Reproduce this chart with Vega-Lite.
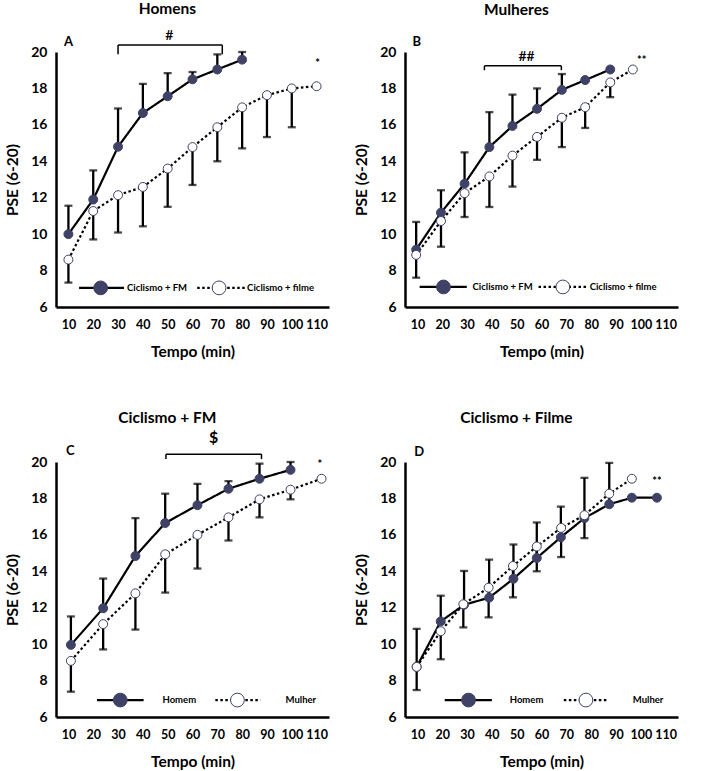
{
  "$schema": "https://vega.github.io/schema/vega-lite/v6.json",
  "background": "white",
  "padding": {"left": 5, "right": 5, "top": 1, "bottom": 2},
  "config": {
    "view": {"stroke": null},
    "font": "Lato",
    "title": {"font": "Lato", "fontSize": 15.5, "fontWeight": "bold", "color": "black", "frame": "bounds", "anchor": "middle"},
    "axis": {
      "domainColor": "black", "domainWidth": 2.5, "ticks": false, "grid": false,
      "labelFont": "Lato", "labelFontSize": 14, "labelFontWeight": "bold", "labelColor": "black",
      "titleFont": "Lato", "titleFontSize": 15.5, "titleFontWeight": "bold", "titleColor": "black",
      "labelOverlap": false
    },
    "axisX": {"labelPadding": 11, "titlePadding": 14, "labelFlush": false, "labelFontSize": 12.5},
    "axisY": {"labelPadding": 9, "titlePadding": 10}
  },
  "datasets": {
    "pts": [
      {"painel": "A", "serie": "Ciclismo + FM", "t": 10, "pse": 10.0, "dp": 11.56},
      {"painel": "A", "serie": "Ciclismo + FM", "t": 20, "pse": 11.9, "dp": 13.5},
      {"painel": "A", "serie": "Ciclismo + FM", "t": 30, "pse": 14.8, "dp": 16.9},
      {"painel": "A", "serie": "Ciclismo + FM", "t": 40, "pse": 16.65, "dp": 18.25},
      {"painel": "A", "serie": "Ciclismo + FM", "t": 50, "pse": 17.57, "dp": 18.84},
      {"painel": "A", "serie": "Ciclismo + FM", "t": 60, "pse": 18.5, "dp": 18.9},
      {"painel": "A", "serie": "Ciclismo + FM", "t": 70, "pse": 19.04, "dp": 19.87},
      {"painel": "A", "serie": "Ciclismo + FM", "t": 80, "pse": 19.58, "dp": 20.0},
      {"painel": "A", "serie": "Ciclismo + filme", "t": 10, "pse": 8.6, "dp": 7.34},
      {"painel": "A", "serie": "Ciclismo + filme", "t": 20, "pse": 11.27, "dp": 9.71},
      {"painel": "A", "serie": "Ciclismo + filme", "t": 30, "pse": 12.14, "dp": 10.09},
      {"painel": "A", "serie": "Ciclismo + filme", "t": 40, "pse": 12.59, "dp": 10.43},
      {"painel": "A", "serie": "Ciclismo + filme", "t": 50, "pse": 13.6, "dp": 11.5},
      {"painel": "A", "serie": "Ciclismo + filme", "t": 60, "pse": 14.78, "dp": 12.7},
      {"painel": "A", "serie": "Ciclismo + filme", "t": 70, "pse": 15.87, "dp": 14.0},
      {"painel": "A", "serie": "Ciclismo + filme", "t": 80, "pse": 16.96, "dp": 14.71},
      {"painel": "A", "serie": "Ciclismo + filme", "t": 90, "pse": 17.63, "dp": 15.33},
      {"painel": "A", "serie": "Ciclismo + filme", "t": 100, "pse": 18.0, "dp": 15.87},
      {"painel": "A", "serie": "Ciclismo + filme", "t": 110, "pse": 18.12, "dp": null},

      {"painel": "B", "serie": "Ciclismo + FM", "t": 9.5, "pse": 9.15, "dp": 10.67},
      {"painel": "B", "serie": "Ciclismo + FM", "t": 19.5, "pse": 11.18, "dp": 12.41},
      {"painel": "B", "serie": "Ciclismo + FM", "t": 29, "pse": 12.77, "dp": 14.49},
      {"painel": "B", "serie": "Ciclismo + FM", "t": 39, "pse": 14.78, "dp": 16.7},
      {"painel": "B", "serie": "Ciclismo + FM", "t": 48.3, "pse": 15.94, "dp": 17.66},
      {"painel": "B", "serie": "Ciclismo + FM", "t": 58.2, "pse": 16.88, "dp": 18.0},
      {"painel": "B", "serie": "Ciclismo + FM", "t": 68.2, "pse": 17.92, "dp": 18.79},
      {"painel": "B", "serie": "Ciclismo + FM", "t": 77.6, "pse": 18.46, "dp": null},
      {"painel": "B", "serie": "Ciclismo + FM", "t": 87.7, "pse": 19.04, "dp": null},
      {"painel": "B", "serie": "Ciclismo + filme", "t": 9.5, "pse": 8.86, "dp": 7.61},
      {"painel": "B", "serie": "Ciclismo + filme", "t": 19.5, "pse": 10.72, "dp": 9.31},
      {"painel": "B", "serie": "Ciclismo + filme", "t": 29, "pse": 12.25, "dp": 10.94},
      {"painel": "B", "serie": "Ciclismo + filme", "t": 39, "pse": 13.17, "dp": 11.49},
      {"painel": "B", "serie": "Ciclismo + filme", "t": 48.3, "pse": 14.31, "dp": 12.61},
      {"painel": "B", "serie": "Ciclismo + filme", "t": 58.2, "pse": 15.34, "dp": 14.08},
      {"painel": "B", "serie": "Ciclismo + filme", "t": 68.2, "pse": 16.39, "dp": 14.78},
      {"painel": "B", "serie": "Ciclismo + filme", "t": 77.6, "pse": 16.97, "dp": 15.83},
      {"painel": "B", "serie": "Ciclismo + filme", "t": 87.7, "pse": 18.33, "dp": 17.52},
      {"painel": "B", "serie": "Ciclismo + filme", "t": 96.8, "pse": 19.04, "dp": null},

      {"painel": "C", "serie": "Homem", "t": 11, "pse": 9.96, "dp": 11.52},
      {"painel": "C", "serie": "Homem", "t": 24, "pse": 11.97, "dp": 13.6},
      {"painel": "C", "serie": "Homem", "t": 37, "pse": 14.84, "dp": 16.92},
      {"painel": "C", "serie": "Homem", "t": 49, "pse": 16.65, "dp": 18.26},
      {"painel": "C", "serie": "Homem", "t": 62, "pse": 17.63, "dp": 18.8},
      {"painel": "C", "serie": "Homem", "t": 74.5, "pse": 18.53, "dp": 18.95},
      {"painel": "C", "serie": "Homem", "t": 87, "pse": 19.08, "dp": 19.91},
      {"painel": "C", "serie": "Homem", "t": 99.5, "pse": 19.57, "dp": 20.0},
      {"painel": "C", "serie": "Mulher", "t": 11, "pse": 9.08, "dp": 7.39},
      {"painel": "C", "serie": "Mulher", "t": 24, "pse": 11.1, "dp": 9.71},
      {"painel": "C", "serie": "Mulher", "t": 37, "pse": 12.79, "dp": 10.8},
      {"painel": "C", "serie": "Mulher", "t": 49, "pse": 14.93, "dp": 12.83},
      {"painel": "C", "serie": "Mulher", "t": 62, "pse": 16.0, "dp": 14.15},
      {"painel": "C", "serie": "Mulher", "t": 74.5, "pse": 16.96, "dp": 15.69},
      {"painel": "C", "serie": "Mulher", "t": 87, "pse": 17.95, "dp": 16.96},
      {"painel": "C", "serie": "Mulher", "t": 99.5, "pse": 18.48, "dp": 17.95},
      {"painel": "C", "serie": "Mulher", "t": 112, "pse": 19.08, "dp": null},

      {"painel": "D", "serie": "Homem", "t": 9.7, "pse": 8.75, "dp": 10.84},
      {"painel": "D", "serie": "Homem", "t": 19.4, "pse": 11.25, "dp": 12.66},
      {"painel": "D", "serie": "Homem", "t": 28.8, "pse": 12.16, "dp": 14.02},
      {"painel": "D", "serie": "Homem", "t": 38.9, "pse": 12.55, "dp": 14.64},
      {"painel": "D", "serie": "Homem", "t": 48.7, "pse": 13.59, "dp": 15.47},
      {"painel": "D", "serie": "Homem", "t": 58.1, "pse": 14.73, "dp": 16.68},
      {"painel": "D", "serie": "Homem", "t": 67.8, "pse": 15.87, "dp": 17.55},
      {"painel": "D", "serie": "Homem", "t": 77.3, "pse": 16.92, "dp": 19.13},
      {"painel": "D", "serie": "Homem", "t": 87.3, "pse": 17.68, "dp": 19.95},
      {"painel": "D", "serie": "Homem", "t": 96.4, "pse": 18.04, "dp": null},
      {"painel": "D", "serie": "Homem", "t": 106.5, "pse": 18.04, "dp": null},
      {"painel": "D", "serie": "Mulher", "t": 9.7, "pse": 8.75, "dp": 7.48},
      {"painel": "D", "serie": "Mulher", "t": 19.4, "pse": 10.71, "dp": 9.17},
      {"painel": "D", "serie": "Mulher", "t": 28.5, "pse": 12.19, "dp": 10.92},
      {"painel": "D", "serie": "Mulher", "t": 38.7, "pse": 13.1, "dp": 11.47},
      {"painel": "D", "serie": "Mulher", "t": 48.5, "pse": 14.29, "dp": 12.57},
      {"painel": "D", "serie": "Mulher", "t": 58.1, "pse": 15.36, "dp": 14.0},
      {"painel": "D", "serie": "Mulher", "t": 67.9, "pse": 16.38, "dp": 14.78},
      {"painel": "D", "serie": "Mulher", "t": 77.3, "pse": 17.08, "dp": 15.82},
      {"painel": "D", "serie": "Mulher", "t": 87.3, "pse": 18.26, "dp": null},
      {"painel": "D", "serie": "Mulher", "t": 96.4, "pse": 19.08, "dp": null}
    ],
    "legenda": [
      {"painel": "A", "serie": "Ciclismo + FM", "rotulo": "Ciclismo + FM", "t": 14.3, "t2": 32.4, "tc": 23.0, "tx": 33.6, "pse": 7.05},
      {"painel": "A", "serie": "Ciclismo + filme", "rotulo": "Ciclismo + filme", "t": 61.9, "t2": 81.2, "tc": 70.7, "tx": 82.0, "pse": 7.05},
      {"painel": "B", "serie": "Ciclismo + FM", "rotulo": "Ciclismo + FM", "t": 10.9, "t2": 29.9, "tc": 20.5, "tx": 32.2, "pse": 7.1},
      {"painel": "B", "serie": "Ciclismo + filme", "rotulo": "Ciclismo + filme", "t": 58.8, "t2": 78.3, "tc": 68.6, "tx": 79.4, "pse": 7.1},
      {"painel": "C", "serie": "Homem", "rotulo": "Homem", "t": 21.5, "t2": 40.3, "tc": 30.9, "tx": 47.9, "pse": 6.93},
      {"painel": "C", "serie": "Mulher", "rotulo": "Mulher", "t": 69.2, "t2": 87.4, "tc": 78.1, "tx": 97.5, "pse": 6.93},
      {"painel": "D", "serie": "Homem", "rotulo": "Homem", "t": 21.0, "t2": 40.0, "tc": 30.6, "tx": 47.2, "pse": 6.93},
      {"painel": "D", "serie": "Mulher", "rotulo": "Mulher", "t": 69.0, "t2": 87.1, "tc": 77.9, "tx": 96.8, "pse": 6.93}
    ],
    "colchetes": [
      {"painel": "A", "t": 30, "t2": 72, "pse": 20.38, "base": 19.87},
      {"painel": "B", "t": 37, "t2": 68, "pse": 19.24, "base": 19.0},
      {"painel": "C", "t": 49.3, "t2": 87.8, "pse": 20.43, "base": 20.16}
    ],
    "notas": [
      {"painel": "A", "tipo": "letra", "t": 10, "pse": 20.56, "texto": "A"},
      {"painel": "A", "tipo": "sinal", "t": 50.7, "pse": 20.87, "texto": "#"},
      {"painel": "A", "tipo": "ast", "t": 110.4, "pse": 19.35, "texto": "*"},
      {"painel": "B", "tipo": "letra", "t": 9.7, "pse": 20.54, "texto": "B"},
      {"painel": "B", "tipo": "sinal", "t": 54, "pse": 19.75, "texto": "##"},
      {"painel": "B", "tipo": "ast", "t": 100.4, "pse": 19.48, "texto": "**"},
      {"painel": "C", "tipo": "letra", "t": 10.8, "pse": 20.58, "texto": "C"},
      {"painel": "C", "tipo": "sinal", "t": 68.5, "pse": 21.3, "texto": "$"},
      {"painel": "C", "tipo": "ast", "t": 111.3, "pse": 19.82, "texto": "*"},
      {"painel": "D", "tipo": "letra", "t": 10.7, "pse": 20.54, "texto": "D"},
      {"painel": "D", "tipo": "ast", "t": 106.5, "pse": 18.88, "texto": "**"}
    ]
  },
  "columns": 2,
  "spacing": {"column": 25, "row": 50},
  "resolve": {
    "scale": {"x": "independent", "y": "independent", "fill": "independent", "strokeDash": "independent"}
  },
  "concat": [
    {
      "title": {"text": "Homens", "offset": 12},
      "width": 273, "height": 255,
      "data": {"name": "pts"},
      "transform": [{"filter": "datum.painel === 'A'"}],
      "encoding": {
        "x": {"field": "t", "type": "quantitative", "scale": {"domain": [5, 115], "nice": false, "zero": false}, "axis": {"title": "Tempo (min)", "values": [10, 20, 30, 40, 50, 60, 70, 80, 90, 100, 110]}},
        "y": {"field": "pse", "type": "quantitative", "scale": {"domain": [6, 20], "nice": false, "zero": false}, "axis": {"title": "PSE (6-20)", "values": [6, 8, 10, 12, 14, 16, 18, 20]}}
      },
      "layer": [
        {"transform": [{"filter": "isValid(datum.dp)"}], "mark": {"type": "rule", "color": "black", "strokeWidth": 2.3}, "encoding": {"y2": {"field": "dp"}}},
        {"transform": [{"filter": "isValid(datum.dp)"}], "mark": {"type": "tick", "orient": "horizontal", "size": 8, "thickness": 2.3, "color": "black"}, "encoding": {"y": {"field": "dp", "type": "quantitative", "scale": {"domain": [6, 20], "nice": false, "zero": false}, "axis": {"title": "PSE (6-20)", "values": [6, 8, 10, 12, 14, 16, 18, 20]}}}},
        {"mark": {"type": "line", "color": "black", "strokeWidth": 2.2}, "encoding": {"strokeDash": {"field": "serie", "type": "nominal", "scale": {"domain": ["Ciclismo + FM", "Ciclismo + filme"], "range": [[1, 0], [2.5, 2.5]]}, "legend": null}}},
        {"mark": {"type": "point", "shape": "circle", "filled": true, "size": 80, "stroke": "#3f4166", "strokeWidth": 1, "opacity": 1},
         "encoding": {"fill": {"field": "serie", "type": "nominal", "scale": {"domain": ["Ciclismo + FM", "Ciclismo + filme"], "range": ["#3f4166", "white"]}, "legend": null}}},
        {"data": {"name": "legenda"}, "transform": [{"filter": "datum.painel === 'A'"}], "mark": {"type": "rule", "color": "black", "strokeWidth": 2.2},
         "encoding": {"x2": {"field": "t2"}, "strokeDash": {"field": "serie", "type": "nominal", "scale": {"domain": ["Ciclismo + FM", "Ciclismo + filme"], "range": [[1, 0], [2.5, 2.5]]}, "legend": null}}},
        {"data": {"name": "legenda"}, "transform": [{"filter": "datum.painel === 'A'"}], "mark": {"type": "point", "shape": "circle", "filled": true, "size": 190, "stroke": "#3f4166", "strokeWidth": 1, "opacity": 1},
         "encoding": {"x": {"field": "tc", "type": "quantitative", "scale": {"domain": [5, 115], "nice": false, "zero": false}, "axis": {"title": "Tempo (min)", "values": [10, 20, 30, 40, 50, 60, 70, 80, 90, 100, 110]}},
                      "fill": {"field": "serie", "type": "nominal", "scale": {"domain": ["Ciclismo + FM", "Ciclismo + filme"], "range": ["#3f4166", "white"]}, "legend": null}}},
        {"data": {"name": "legenda"}, "transform": [{"filter": "datum.painel === 'A'"}], "mark": {"type": "text", "align": "left", "baseline": "middle", "font": "Lato", "fontSize": 9.5, "fontWeight": "bold", "color": "black"},
         "encoding": {"x": {"field": "tx", "type": "quantitative", "scale": {"domain": [5, 115], "nice": false, "zero": false}, "axis": {"title": "Tempo (min)", "values": [10, 20, 30, 40, 50, 60, 70, 80, 90, 100, 110]}}, "text": {"field": "rotulo"}}},
        {"data": {"name": "colchetes"}, "transform": [{"filter": "datum.painel === 'A'"}], "mark": {"type": "rule", "color": "black", "strokeWidth": 1.5}, "encoding": {"x2": {"field": "t2"}}},
        {"data": {"name": "colchetes"}, "transform": [{"filter": "datum.painel === 'A'"}], "mark": {"type": "rule", "color": "black", "strokeWidth": 1.5}, "encoding": {"y2": {"field": "base"}}},
        {"data": {"name": "colchetes"}, "transform": [{"filter": "datum.painel === 'A'"}], "mark": {"type": "rule", "color": "black", "strokeWidth": 1.5}, "encoding": {"x": {"field": "t2", "type": "quantitative", "scale": {"domain": [5, 115], "nice": false, "zero": false}, "axis": {"title": "Tempo (min)", "values": [10, 20, 30, 40, 50, 60, 70, 80, 90, 100, 110]}}, "y2": {"field": "base"}}},
        {"data": {"name": "notas"}, "transform": [{"filter": "datum.painel === 'A' && datum.tipo === 'letra'"}], "mark": {"type": "text", "font": "Lato", "fontSize": 13, "fontWeight": "bold", "color": "black"}, "encoding": {"text": {"field": "texto"}}},
        {"data": {"name": "notas"}, "transform": [{"filter": "datum.painel === 'A' && datum.tipo === 'sinal'"}], "mark": {"type": "text", "font": "Lato", "fontSize": 14, "fontWeight": 600, "color": "black"}, "encoding": {"text": {"field": "texto"}}},
        {"data": {"name": "notas"}, "transform": [{"filter": "datum.painel === 'A' && datum.tipo === 'ast'"}], "mark": {"type": "text", "font": "Lato", "fontSize": 11, "fontWeight": "bold", "color": "black"}, "encoding": {"text": {"field": "texto"}}}
      ]
    },
    {
      "title": {"text": "Mulheres", "offset": 18},
      "width": 273, "height": 255,
      "data": {"name": "pts"},
      "transform": [{"filter": "datum.painel === 'B'"}],
      "encoding": {
        "x": {"field": "t", "type": "quantitative", "scale": {"domain": [5, 115], "nice": false, "zero": false}, "axis": {"title": "Tempo (min)", "values": [10, 20, 30, 40, 50, 60, 70, 80, 90, 100, 110]}},
        "y": {"field": "pse", "type": "quantitative", "scale": {"domain": [6, 20], "nice": false, "zero": false}, "axis": {"title": "PSE (6-20)", "values": [6, 8, 10, 12, 14, 16, 18, 20]}}
      },
      "layer": [
        {"transform": [{"filter": "isValid(datum.dp)"}], "mark": {"type": "rule", "color": "black", "strokeWidth": 2.3}, "encoding": {"y2": {"field": "dp"}}},
        {"transform": [{"filter": "isValid(datum.dp)"}], "mark": {"type": "tick", "orient": "horizontal", "size": 8, "thickness": 2.3, "color": "black"}, "encoding": {"y": {"field": "dp", "type": "quantitative", "scale": {"domain": [6, 20], "nice": false, "zero": false}, "axis": {"title": "PSE (6-20)", "values": [6, 8, 10, 12, 14, 16, 18, 20]}}}},
        {"mark": {"type": "line", "color": "black", "strokeWidth": 2.2}, "encoding": {"strokeDash": {"field": "serie", "type": "nominal", "scale": {"domain": ["Ciclismo + FM", "Ciclismo + filme"], "range": [[1, 0], [2.5, 2.5]]}, "legend": null}}},
        {"mark": {"type": "point", "shape": "circle", "filled": true, "size": 80, "stroke": "#3f4166", "strokeWidth": 1, "opacity": 1},
         "encoding": {"fill": {"field": "serie", "type": "nominal", "scale": {"domain": ["Ciclismo + FM", "Ciclismo + filme"], "range": ["#3f4166", "white"]}, "legend": null}}},
        {"data": {"name": "legenda"}, "transform": [{"filter": "datum.painel === 'B'"}], "mark": {"type": "rule", "color": "black", "strokeWidth": 2.2},
         "encoding": {"x2": {"field": "t2"}, "strokeDash": {"field": "serie", "type": "nominal", "scale": {"domain": ["Ciclismo + FM", "Ciclismo + filme"], "range": [[1, 0], [2.5, 2.5]]}, "legend": null}}},
        {"data": {"name": "legenda"}, "transform": [{"filter": "datum.painel === 'B'"}], "mark": {"type": "point", "shape": "circle", "filled": true, "size": 190, "stroke": "#3f4166", "strokeWidth": 1, "opacity": 1},
         "encoding": {"x": {"field": "tc", "type": "quantitative", "scale": {"domain": [5, 115], "nice": false, "zero": false}, "axis": {"title": "Tempo (min)", "values": [10, 20, 30, 40, 50, 60, 70, 80, 90, 100, 110]}},
                      "fill": {"field": "serie", "type": "nominal", "scale": {"domain": ["Ciclismo + FM", "Ciclismo + filme"], "range": ["#3f4166", "white"]}, "legend": null}}},
        {"data": {"name": "legenda"}, "transform": [{"filter": "datum.painel === 'B'"}], "mark": {"type": "text", "align": "left", "baseline": "middle", "font": "Lato", "fontSize": 9.5, "fontWeight": "bold", "color": "black"},
         "encoding": {"x": {"field": "tx", "type": "quantitative", "scale": {"domain": [5, 115], "nice": false, "zero": false}, "axis": {"title": "Tempo (min)", "values": [10, 20, 30, 40, 50, 60, 70, 80, 90, 100, 110]}}, "text": {"field": "rotulo"}}},
        {"data": {"name": "colchetes"}, "transform": [{"filter": "datum.painel === 'B'"}], "mark": {"type": "rule", "color": "black", "strokeWidth": 1.5}, "encoding": {"x2": {"field": "t2"}}},
        {"data": {"name": "colchetes"}, "transform": [{"filter": "datum.painel === 'B'"}], "mark": {"type": "rule", "color": "black", "strokeWidth": 1.5}, "encoding": {"y2": {"field": "base"}}},
        {"data": {"name": "colchetes"}, "transform": [{"filter": "datum.painel === 'B'"}], "mark": {"type": "rule", "color": "black", "strokeWidth": 1.5}, "encoding": {"x": {"field": "t2", "type": "quantitative", "scale": {"domain": [5, 115], "nice": false, "zero": false}, "axis": {"title": "Tempo (min)", "values": [10, 20, 30, 40, 50, 60, 70, 80, 90, 100, 110]}}, "y2": {"field": "base"}}},
        {"data": {"name": "notas"}, "transform": [{"filter": "datum.painel === 'B' && datum.tipo === 'letra'"}], "mark": {"type": "text", "font": "Lato", "fontSize": 13, "fontWeight": "bold", "color": "black"}, "encoding": {"text": {"field": "texto"}}},
        {"data": {"name": "notas"}, "transform": [{"filter": "datum.painel === 'B' && datum.tipo === 'sinal'"}], "mark": {"type": "text", "font": "Lato", "fontSize": 14, "fontWeight": 600, "color": "black"}, "encoding": {"text": {"field": "texto"}}},
        {"data": {"name": "notas"}, "transform": [{"filter": "datum.painel === 'B' && datum.tipo === 'ast'"}], "mark": {"type": "text", "font": "Lato", "fontSize": 11, "fontWeight": "bold", "color": "black"}, "encoding": {"text": {"field": "texto"}}}
      ]
    },
    {
      "title": {"text": "Ciclismo + FM", "offset": 4},
      "width": 273, "height": 255,
      "data": {"name": "pts"},
      "transform": [{"filter": "datum.painel === 'C'"}],
      "encoding": {
        "x": {"field": "t", "type": "quantitative", "scale": {"domain": [5, 115], "nice": false, "zero": false}, "axis": {"title": "Tempo (min)", "values": [10, 20, 30, 40, 50, 60, 70, 80, 90, 100, 110]}},
        "y": {"field": "pse", "type": "quantitative", "scale": {"domain": [6, 20], "nice": false, "zero": false}, "axis": {"title": "PSE (6-20)", "values": [6, 8, 10, 12, 14, 16, 18, 20]}}
      },
      "layer": [
        {"transform": [{"filter": "isValid(datum.dp)"}], "mark": {"type": "rule", "color": "black", "strokeWidth": 2.3}, "encoding": {"y2": {"field": "dp"}}},
        {"transform": [{"filter": "isValid(datum.dp)"}], "mark": {"type": "tick", "orient": "horizontal", "size": 8, "thickness": 2.3, "color": "black"}, "encoding": {"y": {"field": "dp", "type": "quantitative", "scale": {"domain": [6, 20], "nice": false, "zero": false}, "axis": {"title": "PSE (6-20)", "values": [6, 8, 10, 12, 14, 16, 18, 20]}}}},
        {"mark": {"type": "line", "color": "black", "strokeWidth": 2.2}, "encoding": {"strokeDash": {"field": "serie", "type": "nominal", "scale": {"domain": ["Homem", "Mulher"], "range": [[1, 0], [2.5, 2.5]]}, "legend": null}}},
        {"mark": {"type": "point", "shape": "circle", "filled": true, "size": 80, "stroke": "#3f4166", "strokeWidth": 1, "opacity": 1},
         "encoding": {"fill": {"field": "serie", "type": "nominal", "scale": {"domain": ["Homem", "Mulher"], "range": ["#3f4166", "white"]}, "legend": null}}},
        {"data": {"name": "legenda"}, "transform": [{"filter": "datum.painel === 'C'"}], "mark": {"type": "rule", "color": "black", "strokeWidth": 2.2},
         "encoding": {"x2": {"field": "t2"}, "strokeDash": {"field": "serie", "type": "nominal", "scale": {"domain": ["Homem", "Mulher"], "range": [[1, 0], [2.5, 2.5]]}, "legend": null}}},
        {"data": {"name": "legenda"}, "transform": [{"filter": "datum.painel === 'C'"}], "mark": {"type": "point", "shape": "circle", "filled": true, "size": 190, "stroke": "#3f4166", "strokeWidth": 1, "opacity": 1},
         "encoding": {"x": {"field": "tc", "type": "quantitative", "scale": {"domain": [5, 115], "nice": false, "zero": false}, "axis": {"title": "Tempo (min)", "values": [10, 20, 30, 40, 50, 60, 70, 80, 90, 100, 110]}},
                      "fill": {"field": "serie", "type": "nominal", "scale": {"domain": ["Homem", "Mulher"], "range": ["#3f4166", "white"]}, "legend": null}}},
        {"data": {"name": "legenda"}, "transform": [{"filter": "datum.painel === 'C'"}], "mark": {"type": "text", "align": "left", "baseline": "middle", "font": "Lato", "fontSize": 9.5, "fontWeight": "bold", "color": "black"},
         "encoding": {"x": {"field": "tx", "type": "quantitative", "scale": {"domain": [5, 115], "nice": false, "zero": false}, "axis": {"title": "Tempo (min)", "values": [10, 20, 30, 40, 50, 60, 70, 80, 90, 100, 110]}}, "text": {"field": "rotulo"}}},
        {"data": {"name": "colchetes"}, "transform": [{"filter": "datum.painel === 'C'"}], "mark": {"type": "rule", "color": "black", "strokeWidth": 1.5}, "encoding": {"x2": {"field": "t2"}}},
        {"data": {"name": "colchetes"}, "transform": [{"filter": "datum.painel === 'C'"}], "mark": {"type": "rule", "color": "black", "strokeWidth": 1.5}, "encoding": {"y2": {"field": "base"}}},
        {"data": {"name": "colchetes"}, "transform": [{"filter": "datum.painel === 'C'"}], "mark": {"type": "rule", "color": "black", "strokeWidth": 1.5}, "encoding": {"x": {"field": "t2", "type": "quantitative", "scale": {"domain": [5, 115], "nice": false, "zero": false}, "axis": {"title": "Tempo (min)", "values": [10, 20, 30, 40, 50, 60, 70, 80, 90, 100, 110]}}, "y2": {"field": "base"}}},
        {"data": {"name": "notas"}, "transform": [{"filter": "datum.painel === 'C' && datum.tipo === 'letra'"}], "mark": {"type": "text", "font": "Lato", "fontSize": 13, "fontWeight": "bold", "color": "black"}, "encoding": {"text": {"field": "texto"}}},
        {"data": {"name": "notas"}, "transform": [{"filter": "datum.painel === 'C' && datum.tipo === 'sinal'"}], "mark": {"type": "text", "font": "Lato", "fontSize": 16, "fontWeight": "bold", "color": "black"}, "encoding": {"text": {"field": "texto"}}},
        {"data": {"name": "notas"}, "transform": [{"filter": "datum.painel === 'C' && datum.tipo === 'ast'"}], "mark": {"type": "text", "font": "Lato", "fontSize": 11, "fontWeight": "bold", "color": "black"}, "encoding": {"text": {"field": "texto"}}}
      ]
    },
    {
      "title": {"text": "Ciclismo + Filme", "offset": 20},
      "width": 273, "height": 255,
      "data": {"name": "pts"},
      "transform": [{"filter": "datum.painel === 'D'"}],
      "encoding": {
        "x": {"field": "t", "type": "quantitative", "scale": {"domain": [5, 115], "nice": false, "zero": false}, "axis": {"title": "Tempo (min)", "values": [10, 20, 30, 40, 50, 60, 70, 80, 90, 100, 110]}},
        "y": {"field": "pse", "type": "quantitative", "scale": {"domain": [6, 20], "nice": false, "zero": false}, "axis": {"title": "PSE (6-20)", "values": [6, 8, 10, 12, 14, 16, 18, 20]}}
      },
      "layer": [
        {"transform": [{"filter": "isValid(datum.dp)"}], "mark": {"type": "rule", "color": "black", "strokeWidth": 2.3}, "encoding": {"y2": {"field": "dp"}}},
        {"transform": [{"filter": "isValid(datum.dp)"}], "mark": {"type": "tick", "orient": "horizontal", "size": 8, "thickness": 2.3, "color": "black"}, "encoding": {"y": {"field": "dp", "type": "quantitative", "scale": {"domain": [6, 20], "nice": false, "zero": false}, "axis": {"title": "PSE (6-20)", "values": [6, 8, 10, 12, 14, 16, 18, 20]}}}},
        {"mark": {"type": "line", "color": "black", "strokeWidth": 2.2}, "encoding": {"strokeDash": {"field": "serie", "type": "nominal", "scale": {"domain": ["Homem", "Mulher"], "range": [[1, 0], [2.5, 2.5]]}, "legend": null}}},
        {"mark": {"type": "point", "shape": "circle", "filled": true, "size": 80, "stroke": "#3f4166", "strokeWidth": 1, "opacity": 1},
         "encoding": {"fill": {"field": "serie", "type": "nominal", "scale": {"domain": ["Homem", "Mulher"], "range": ["#3f4166", "white"]}, "legend": null}}},
        {"data": {"name": "legenda"}, "transform": [{"filter": "datum.painel === 'D'"}], "mark": {"type": "rule", "color": "black", "strokeWidth": 2.2},
         "encoding": {"x2": {"field": "t2"}, "strokeDash": {"field": "serie", "type": "nominal", "scale": {"domain": ["Homem", "Mulher"], "range": [[1, 0], [2.5, 2.5]]}, "legend": null}}},
        {"data": {"name": "legenda"}, "transform": [{"filter": "datum.painel === 'D'"}], "mark": {"type": "point", "shape": "circle", "filled": true, "size": 190, "stroke": "#3f4166", "strokeWidth": 1, "opacity": 1},
         "encoding": {"x": {"field": "tc", "type": "quantitative", "scale": {"domain": [5, 115], "nice": false, "zero": false}, "axis": {"title": "Tempo (min)", "values": [10, 20, 30, 40, 50, 60, 70, 80, 90, 100, 110]}},
                      "fill": {"field": "serie", "type": "nominal", "scale": {"domain": ["Homem", "Mulher"], "range": ["#3f4166", "white"]}, "legend": null}}},
        {"data": {"name": "legenda"}, "transform": [{"filter": "datum.painel === 'D'"}], "mark": {"type": "text", "align": "left", "baseline": "middle", "font": "Lato", "fontSize": 9.5, "fontWeight": "bold", "color": "black"},
         "encoding": {"x": {"field": "tx", "type": "quantitative", "scale": {"domain": [5, 115], "nice": false, "zero": false}, "axis": {"title": "Tempo (min)", "values": [10, 20, 30, 40, 50, 60, 70, 80, 90, 100, 110]}}, "text": {"field": "rotulo"}}},
        {"data": {"name": "notas"}, "transform": [{"filter": "datum.painel === 'D' && datum.tipo === 'letra'"}], "mark": {"type": "text", "font": "Lato", "fontSize": 13, "fontWeight": "bold", "color": "black"}, "encoding": {"text": {"field": "texto"}}},
        {"data": {"name": "notas"}, "transform": [{"filter": "datum.painel === 'D' && datum.tipo === 'ast'"}], "mark": {"type": "text", "font": "Lato", "fontSize": 11, "fontWeight": "bold", "color": "black"}, "encoding": {"text": {"field": "texto"}}}
      ]
    }
  ]
}
